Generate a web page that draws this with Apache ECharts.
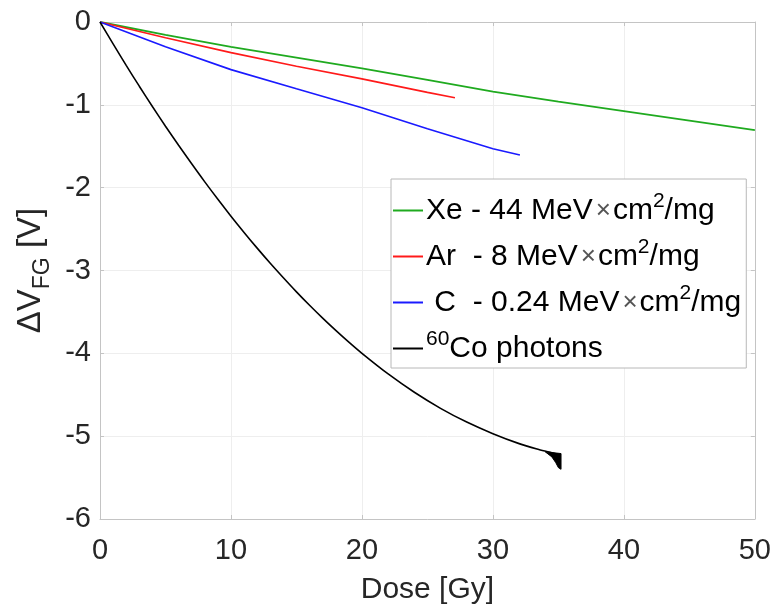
<!DOCTYPE html>
<html>
<head>
<meta charset="utf-8">
<script src="https://cdn.jsdelivr.net/npm/echarts@6/dist/echarts.min.js"></script>
<style>html,body{margin:0;padding:0;background:#fff}#c{width:774px;height:610px}</style>
</head>
<body>
<div id="c"></div>
<script>
// ---- data ----
const xeDose = [0, 5, 10, 15, 20, 25, 30, 35, 40, 45, 50];
const xeDV   = [0, -0.155, -0.30, -0.43, -0.56, -0.70, -0.84, -0.96, -1.075, -1.19, -1.305];

const arDose = [0, 5, 10, 15, 20, 25, 27.1];
const arDV   = [0, -0.19, -0.37, -0.535, -0.687, -0.85, -0.914];

const cDose = [0, 5, 10, 15, 20, 25, 30, 32.06];
const cDV   = [0, -0.30, -0.575, -0.806, -1.034, -1.29, -1.53, -1.605];

const coDose = [0, 1, 2, 3, 4, 5, 6, 7, 8, 9, 10, 11, 12, 13, 14, 15, 16, 17, 18, 19, 20, 22, 24, 26, 28, 30, 32, 33.5, 34.5, 35];
const coDV   = [0, -0.265, -0.524, -0.775, -1.02, -1.258, -1.488, -1.712, -1.93, -2.14, -2.344, -2.54, -2.73, -2.913, -3.088, -3.258, -3.42, -3.575, -3.723, -3.865, -4.00, -4.249, -4.47, -4.664, -4.83, -4.97, -5.09, -5.16, -5.20, -5.22];

// noisy end-points of the 60Co run (outline of the dark blob)
const coEndDose = [34.0, 35.2, 35.2, 35.0, 34.8, 34.5];
const coEndDV   = [-5.19, -5.21, -5.40, -5.38, -5.32, -5.25];

const seriesNames = ['Xe - 44 MeV×cm²/mg', 'Ar  - 8 MeV×cm²/mg', ' C  - 0.24 MeV×cm²/mg', '⁶⁰Co photons'];
const legendRich = [
  '{t|Xe - 44 MeV}{x|×}{t|cm}{s|2}{t|/mg}',
  '{t|Ar  - 8 MeV}{x|×}{t|cm}{s|2}{t|/mg}',
  '{t| C  - 0.24 MeV}{x|×}{t|cm}{s|2}{t|/mg}',
  '{s|60}{t|Co photons}'
];
const xTicks = {min: 0, max: 50, interval: 10};
const yTicks = {min: -6, max: 0, interval: 1};
const xLabel = 'Dose [Gy]';

// ---- chart ----
const zip = (a, b) => a.map((v, i) => [v, b[i]]);
const font = "'Liberation Sans', Arial, Helvetica, sans-serif";
const axisGray = '#c4c4c4';

const chart = echarts.init(document.getElementById('c'), null, {renderer: 'canvas'});
const baseLine = {type: 'line', showSymbol: false, symbol: 'none', clip: true, emphasis: {disabled: true}};

chart.setOption({
  backgroundColor: '#fff',
  animation: false,
  textStyle: {fontFamily: font},
  grid: {left: 100, right: 18, top: 22, bottom: 87, show: false},
  xAxis: [{
    type: 'value', min: xTicks.min, max: xTicks.max, interval: xTicks.interval,
    position: 'bottom',
    axisLine: {show: true, onZero: false, lineStyle: {color: axisGray, width: 1}},
    axisTick: {show: true, inside: true, length: 4, lineStyle: {color: axisGray}},
    axisLabel: {color: '#262626', fontSize: 29, fontFamily: font, margin: 17},
    splitLine: {show: true, lineStyle: {color: '#eeeeee', width: 1}},
    name: xLabel, nameLocation: 'middle', nameGap: 56,
    nameTextStyle: {color: '#262626', fontSize: 30, fontFamily: font}
  }, {
    type: 'value', min: xTicks.min, max: xTicks.max, interval: xTicks.interval,
    position: 'top',
    axisLine: {show: true, onZero: false, lineStyle: {color: axisGray, width: 1}},
    axisTick: {show: true, inside: true, length: 4, lineStyle: {color: axisGray}},
    axisLabel: {show: false}, splitLine: {show: false}
  }],
  yAxis: [{
    type: 'value', min: yTicks.min, max: yTicks.max, interval: yTicks.interval,
    position: 'left',
    axisLine: {show: true, onZero: false, lineStyle: {color: axisGray, width: 1}},
    axisTick: {show: true, inside: true, length: 4, lineStyle: {color: axisGray}},
    axisLabel: {color: '#262626', fontSize: 29, fontFamily: font, margin: 9, padding: [5, 0, 0, 0]},
    splitLine: {show: true, lineStyle: {color: '#eeeeee', width: 1}},
    name: '{m|ΔV}{b|FG}{m| [V]}', nameLocation: 'middle', nameGap: 46, nameRotate: 90,
    nameTextStyle: {
      color: '#262626', fontFamily: font,
      rich: {
        m: {fontSize: 33, lineHeight: 46, color: '#262626', fontFamily: font},
        b: {fontSize: 23, lineHeight: 23, verticalAlign: 'bottom', color: '#262626', fontFamily: font}
      }
    }
  }, {
    type: 'value', min: yTicks.min, max: yTicks.max, interval: yTicks.interval,
    position: 'right',
    axisLine: {show: true, onZero: false, lineStyle: {color: axisGray, width: 1}},
    axisTick: {show: true, inside: true, length: 4, lineStyle: {color: axisGray}},
    axisLabel: {show: false}, splitLine: {show: false}
  }],
  legend: {
    show: true, orient: 'vertical', left: 391, top: 179,
    backgroundColor: '#fff', borderColor: '#b8b8b8', borderWidth: 1,
    padding: [12, 5, 0, 2], itemGap: 7, itemWidth: 30, itemHeight: 2,
    icon: 'rect', selectedMode: false,
    data: seriesNames.map(n => ({name: n})),
    formatter: name => legendRich[seriesNames.indexOf(name)],
    textStyle: {
      fontFamily: font, color: '#000', padding: [0, 0, 0, -2],
      rich: {
        t: {fontSize: 30, lineHeight: 34, color: '#000', fontFamily: font},
        x: {fontSize: 26, lineHeight: 34, color: '#555', fontFamily: font, padding: [0, 2, 0, 3]},
        s: {fontSize: 21, lineHeight: 21, color: '#000', fontFamily: font, padding: [0, 0, 18, 0]}
      }
    }
  },
  series: [
    Object.assign({}, baseLine, {name: seriesNames[0], color: '#1faa1f', lineStyle: {width: 1.8, color: '#1faa1f'}, data: zip(xeDose, xeDV)}),
    Object.assign({}, baseLine, {name: seriesNames[1], color: '#ff1a1a', lineStyle: {width: 1.6, color: '#ff1a1a'}, data: zip(arDose, arDV)}),
    Object.assign({}, baseLine, {name: seriesNames[2], color: '#1a1aff', lineStyle: {width: 1.6, color: '#1a1aff'}, data: zip(cDose, cDV)}),
    Object.assign({}, baseLine, {name: seriesNames[3], color: '#000', smooth: 0.3, lineStyle: {width: 1.6, color: '#000'}, data: zip(coDose, coDV)}),
    {
      type: 'custom', name: 'coEnd', silent: true,
      data: zip(coEndDose, coEndDV),
      renderItem: (params, api) => {
        if (params.dataIndex !== 0) return null;
        const pts = coEndDose.map((d, i) => api.coord([d, coEndDV[i]]));
        return {type: 'polygon', shape: {points: pts}, style: {fill: '#000', stroke: '#000', lineWidth: 1}};
      }
    }
  ]
});
</script>
</body>
</html>
